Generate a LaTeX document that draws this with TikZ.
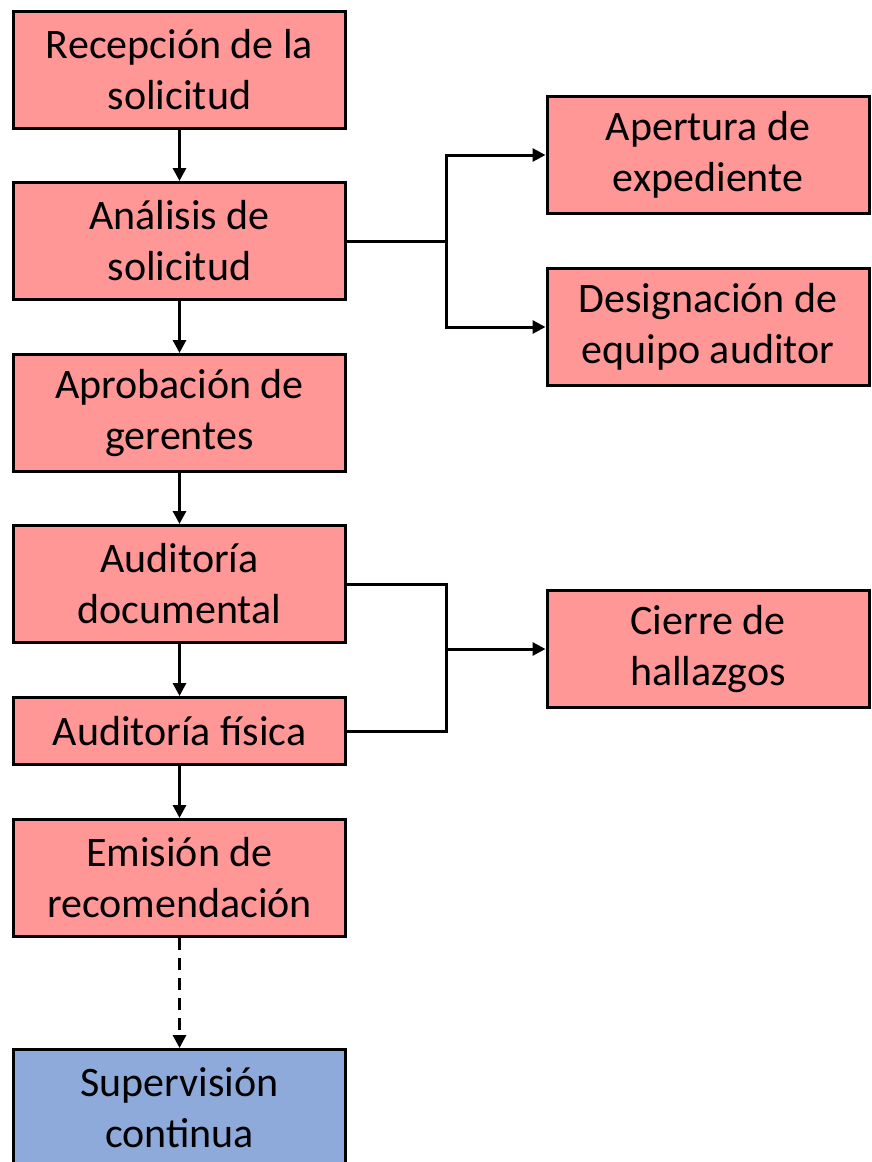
\documentclass[tikz,border=0pt]{standalone}
\usepackage{fontspec}
\setmainfont{Carlito}
\usetikzlibrary{arrows.meta}
\definecolor{boxred}{RGB}{255,151,151}
\definecolor{boxblue}{RGB}{142,170,219}
\begin{document}
\begin{tikzpicture}[x=1pt,y=-1pt,
  paso/.style={draw=black,line width=3pt,fill=boxred,minimum width=332pt,
    minimum height=117pt,inner sep=0pt,align=center,
    font=\fontsize{42pt}{51pt}\selectfont},
  lado/.style={paso,minimum width=322pt},
  flecha/.style={line width=3pt,-{Triangle[length=13pt,width=13pt]}},
  linea/.style={line width=3pt}]

  \useasboundingbox (0,0) rectangle (871,1162);

  %% left column
  \node[paso] (recep)  at (179.5,70)  {Recepción de la\\solicitud};
  \node[paso] (anal)   at (179.5,241) {Análisis de\\solicitud};
  \node[paso] (aprob)  at (179.5,413) {Aprobación de\\gerentes};
  \node[paso] (adoc)   at (179.5,584) {Auditoría\\documental};
  \node[paso,minimum height=67pt] (afis) at (179.5,731) {Auditoría física};
  \node[paso] (emis)   at (179.5,878) {Emisión de\\recomendación};
  \node[paso,fill=boxblue] (superv) at (179.5,1108) {Supervisión\\continua};

  %% right column
  \node[lado] (apert)  at (708,155) {Apertura de\\expediente};
  \node[lado] (design) at (708,327) {Designación de\\equipo auditor};
  \node[lado] (cierre) at (708,649) {Cierre de\\hallazgos};

  %% main flow
  \draw[flecha] (recep) -- (anal);
  \draw[flecha] (anal) -- (aprob);
  \draw[flecha] (aprob) -- (adoc);
  \draw[flecha] (adoc) -- (afis);
  \draw[flecha] (afis) -- (emis);
  \draw[flecha,dash pattern=on 12pt off 8pt] (emis) -- (superv);

  %% branches
  \coordinate (split1) at (446,241);
  \draw[linea] (anal) -- (split1);
  \draw[flecha] (split1) |- (apert);
  \draw[flecha] (split1) |- (design);

  \coordinate (split2) at (446,649);
  \draw[linea] (adoc.east) -| (split2);
  \draw[linea] (afis.east) -| (split2);
  \draw[flecha] (split2) -- (cierre);

\end{tikzpicture}
\end{document}
